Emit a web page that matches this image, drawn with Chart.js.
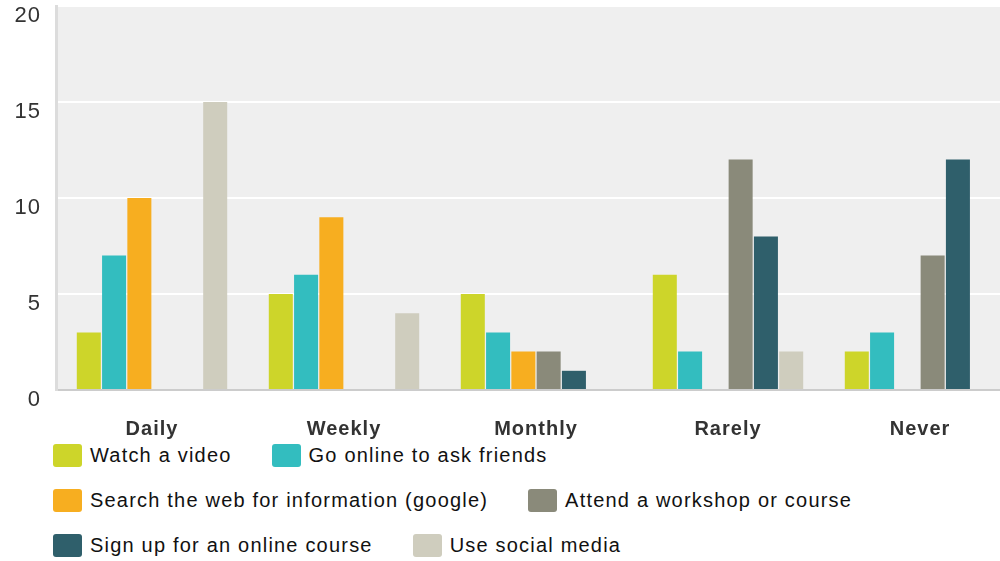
<!DOCTYPE html>
<html>
<head>
<meta charset="utf-8">
<script src="https://cdn.jsdelivr.net/npm/chart.js@4.4.1/dist/chart.umd.min.js"></script>
<style>
  html, body { margin: 0; padding: 0; background: #fff; }
  body { width: 1000px; height: 561px; overflow: hidden; font-family: "Liberation Sans", Arial, sans-serif; }
  .chart-box { position: relative; width: 1016px; height: 442px; }
  #legend { display: flex; flex-wrap: wrap; width: 947px; padding: 2px 0 0 53px; }
  #legend .item { display: flex; align-items: center; height: 23px; margin: 0 40px 22px 0; }
  #legend .swatch { width: 29px; height: 23px; border-radius: 3px; margin-right: 8px; }
  #legend .label { font-size: 20px; letter-spacing: 1.2px; color: #111; white-space: nowrap; }
</style>
</head>
<body>
<div class="chart-box"><canvas id="myChart"></canvas></div>
<div id="legend"></div>
<script>
// DATA
var categories = ["Daily", "Weekly", "Monthly", "Rarely", "Never"];
var seriesNames = [
  "Watch a video",
  "Go online to ask friends",
  "Search the web for information (google)",
  "Attend a workshop or course",
  "Sign up for an online course",
  "Use social media",
];
var watchVideo = [3, 5, 5, 6, 2];
var askFriends = [7, 6, 3, 2, 3];
var searchWeb = [10, 9, 2, 0, 0];
var attendWorkshop = [0, 0, 2, 12, 7];
var onlineCourse = [0, 0, 1, 8, 12];
var socialMedia = [15, 4, 0, 2, 0];
var yTicks = [0, 5, 10, 15, 20];

var seriesValues = [watchVideo, askFriends, searchWeb, attendWorkshop, onlineCourse, socialMedia];
var seriesColors = ["#cdd52a", "#33bdbf", "#f7ae20", "#8a8a7a", "#2f5f6b", "#cfcdbe"];

// plot background + letter spacing for canvas text
var plotBg = {
  id: "plotBg",
  beforeDraw: function (chart) {
    var a = chart.chartArea;
    var ctx = chart.ctx;
    ctx.save();
    ctx.fillStyle = "#efefef";
    ctx.fillRect(a.left, a.top, a.right - a.left, a.bottom - a.top);
    ctx.restore();
    ctx.letterSpacing = "1px";
  },
};

new Chart("myChart", {
  type: "bar",
  data: {
    labels: categories,
    datasets: seriesValues.map(function (vals, i) {
      return {
        label: seriesNames[i],
        data: vals,
        backgroundColor: seriesColors[i],
        barPercentage: 0.95,
        categoryPercentage: 0.79,
      };
    }),
  },
  options: {
    responsive: true,
    maintainAspectRatio: false,
    animation: false,
    layout: { padding: { top: 6, right: 0, left: 0, bottom: 0 } },
    plugins: {
      legend: { display: false },
      tooltip: { enabled: false },
    },
    scales: {
      x: {
        grid: { display: false, drawTicks: false },
        border: { color: "#cccccc", width: 2 },
        ticks: {
          color: "#333",
          padding: 27,
          font: { family: "'Liberation Sans', Arial, sans-serif", size: 20, weight: "bold" },
        },
        afterFit: function (scale) {
          scale.height = 52;
          scale.paddingLeft = 0;
          scale.paddingRight = 0;
        },
      },
      y: {
        min: 0,
        max: 20,
        afterBuildTicks: function (scale) {
          scale.ticks = yTicks.map(function (v) { return { value: v }; });
        },
        grid: { color: "#ffffff", lineWidth: 2, drawTicks: false },
        border: { color: "#dcdcdc", width: 3 },
        ticks: {
          color: "#333",
          padding: 15,
          labelOffset: 10,
          font: { family: "'Liberation Sans', Arial, sans-serif", size: 22 },
        },
        afterFit: function (scale) {
          scale.width = 56;
          scale.paddingTop = 0;
          scale.paddingBottom = 0;
        },
      },
    },
  },
  plugins: [plotBg],
});

// LEGEND
var legend = document.getElementById("legend");
seriesNames.forEach(function (name, i) {
  var item = document.createElement("div");
  item.className = "item";
  item.innerHTML = '<span class="swatch" style="background:' + seriesColors[i] + '"></span><span class="label"></span>';
  item.querySelector(".label").textContent = name;
  legend.appendChild(item);
});
</script>
</body>
</html>
